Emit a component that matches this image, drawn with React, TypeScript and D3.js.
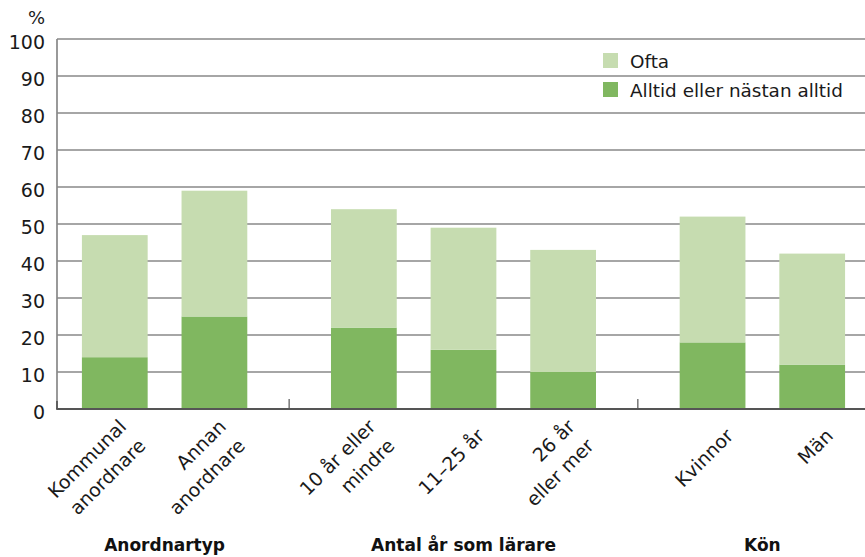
import React from "react";
import * as d3 from "d3";

const groups = ["Anordnartyp", "Antal år som lärare", "Kön"];
const categories = [
  ["Kommunal", "anordnare"],
  ["Annan", "anordnare"],
  ["10 år eller", "mindre"],
  ["11–25 år"],
  ["26 år", "eller mer"],
  ["Kvinnor"],
  ["Män"],
];
const categoryGroup = [0, 0, 1, 1, 1, 2, 2];
const alltid = [14, 25, 22, 16, 10, 18, 12];
const ofta = [33, 34, 32, 33, 33, 34, 30];
const yTicks = [0, 10, 20, 30, 40, 50, 60, 70, 80, 90, 100];
const seriesNames = ["Ofta", "Alltid eller nästan alltid"];

const W = 865;
const H = 557;
const LIGHT = "#c6dcb0";
const DARK = "#80b760";
const FONT = "DejaVu Sans, sans-serif";

export default function App() {
  const y = d3.scaleLinear().domain([0, 100]).range([409, 39]);
  const pos: number[] = [];
  let p = 0;
  categories.forEach((_, i) => {
    if (i > 0 && categoryGroup[i] !== categoryGroup[i - 1]) p += 0.5;
    pos.push(p);
    p += 1;
  });
  const x = d3.scaleLinear().domain([-0.58, 7.53]).range([57, 865]);
  const unit = x(1) - x(0);
  const bw = unit * 0.66;

  const sepPos: number[] = [];
  for (let i = 1; i < categories.length; i++) {
    if (categoryGroup[i] !== categoryGroup[i - 1]) sepPos.push((pos[i] + pos[i - 1]) / 2);
  }
  const groupCenters = groups.map((_, g) => {
    const ps = pos.filter((_, i) => categoryGroup[i] === g);
    return d3.mean(ps) as number;
  });

  return (
    <svg width={W} height={H} style={{ position: "absolute", left: 0, top: 0 }} fontFamily={FONT}>
      <rect x={0} y={0} width={W} height={H} fill="#fff" />
      {yTicks.filter((t) => t > 0).map((t) => (
        <line key={t} x1={x(-0.58)} x2={W} y1={y(t)} y2={y(t)} stroke="#888" strokeWidth={1.7} />
      ))}
      {yTicks.map((t) => (
        <text key={t} x={45} y={y(t) + 9.5} textAnchor="end" fontSize={19} fill="#1a1a1a">
          {t}
        </text>
      ))}
      <text x={45} y={24} textAnchor="end" fontSize={18} fill="#1a1a1a">%</text>
      {categories.map((c, i) => {
        const cx = x(pos[i]);
        return (
          <g key={i}>
            <rect x={cx - bw / 2} y={y(alltid[i])} width={bw} height={y(0) - y(alltid[i])} fill={DARK} />
            <rect
              x={cx - bw / 2}
              y={y(alltid[i] + ofta[i])}
              width={bw}
              height={y(alltid[i]) - y(alltid[i] + ofta[i])}
              fill={LIGHT}
            />
          </g>
        );
      })}
      <line x1={x(-0.58)} x2={x(-0.58)} y1={y(100)} y2={y(0)} stroke="#888" strokeWidth={1.7} />
      <line x1={x(-0.58)} x2={x(-0.58)} y1={y(0) - 8} y2={y(0)} stroke="#555" strokeWidth={1.7} />
      <line x1={x(-0.58) - 0.8} x2={W} y1={y(0)} y2={y(0)} stroke="#555" strokeWidth={2} />
      {sepPos.map((sp, i) => (
        <line key={i} x1={x(sp)} x2={x(sp)} y1={y(0) - 10} y2={y(0)} stroke="#555" strokeWidth={1.2} />
      ))}
      {categories.map((c, i) => {
        const cx = x(pos[i]);
        const offs = c.length === 1 ? [0] : [-13, 14];
        return (
          <g key={i} transform={`translate(${cx + 22},437) rotate(-45)`}>
            {c.map((line, j) => (
              <text key={j} x={0} y={offs[j]} textAnchor="end" fontSize={19} fill="#1a1a1a">
                {line}
              </text>
            ))}
          </g>
        );
      })}
      {groups.map((g, i) => (
        <text key={g} x={x(groupCenters[i])} y={551} textAnchor="middle" fontSize={17} fontWeight="bold" fill="#111">
          {g}
        </text>
      ))}
      {seriesNames.map((s, i) => (
        <g key={s} transform={`translate(603,${53 + i * 29})`}>
          <rect x={0} y={0} width={15} height={15} fill={i === 0 ? LIGHT : DARK} />
          <text x={27} y={14.5} fontSize={18.4} fill="#1a1a1a">
            {s}
          </text>
        </g>
      ))}
    </svg>
  );
}
